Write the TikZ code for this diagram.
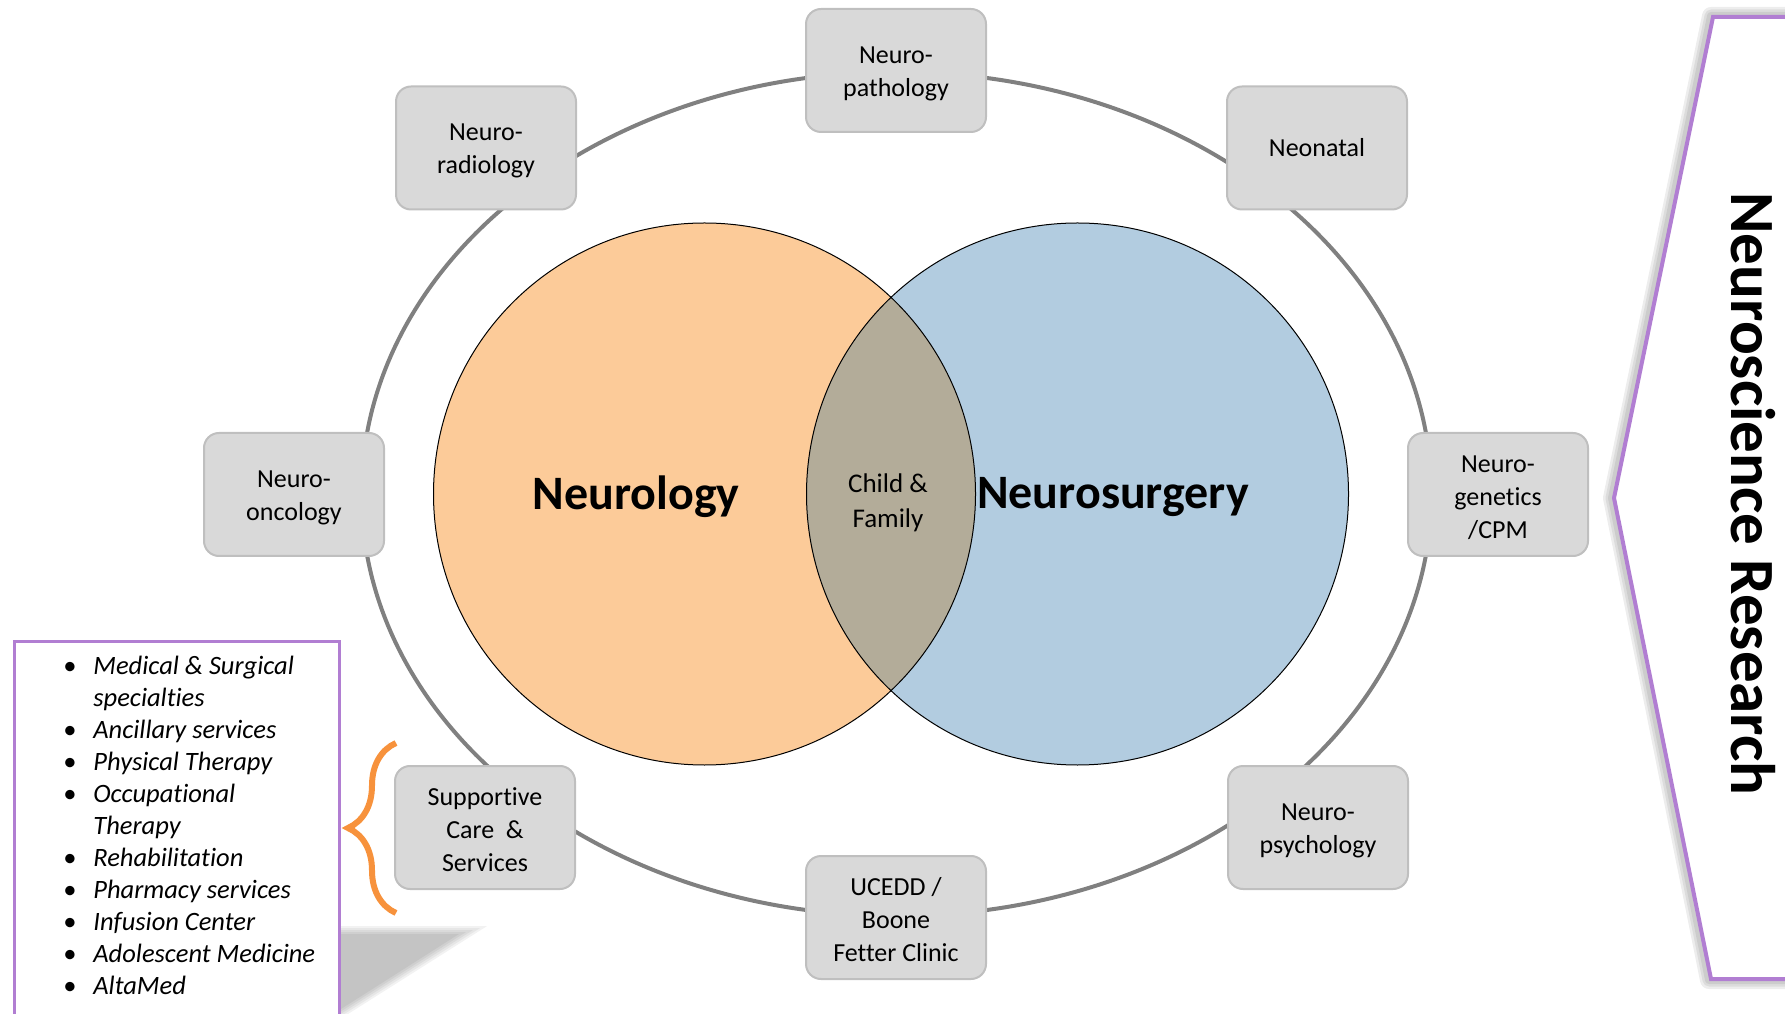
\documentclass[tikz,border=0pt]{standalone}
\usepackage{fontspec}
\setmainfont[Ligatures=NoCommon]{Carlito}
\usetikzlibrary{calc,positioning,decorations.pathreplacing,shapes}
\definecolor{boxfill}{RGB}{217,217,217}
\definecolor{boxline}{RGB}{191,191,191}
\definecolor{ringgray}{RGB}{128,128,128}
\definecolor{neurofill}{RGB}{252,203,153}
\definecolor{surgfill}{RGB}{178,204,224}
\definecolor{lensfill}{RGB}{179,172,153}
\definecolor{purpline}{RGB}{177,126,210}
\definecolor{braceorange}{RGB}{247,146,60}
\newcommand{\topstrut}{\rule{0pt}{23pt}}
\tikzset{
  specbox/.style={
    rectangle,
    rounded corners=15pt,
    fill=boxfill,
    draw=boxline, line width=2pt,
    minimum width=180pt,
    minimum height=123pt,
    align=center,
    font=\fontsize{26}{33}\selectfont},
  venn/.style={circle, minimum size=542pt, inner sep=0pt, outer sep=0pt},
  vennline/.style={draw=black, line width=1pt},
  ring/.style={draw=ringgray, line width=4pt},
  bigname/.style={font=\bfseries\fontsize{48}{56}\selectfont},
  midname/.style={align=center, font=\fontsize{27}{35}\selectfont},
  svcbrace/.style={decorate, decoration={brace, amplitude=48pt},
    draw=braceorange, line width=6pt},
  listframe/.style={draw=purpline, line width=3pt},
  svclist/.style={inner sep=0pt, font=\itshape\fontsize{26.5}{32}\selectfont},
  researchtxt/.style={font=\bfseries\fontsize{63}{76}\selectfont},
  softshade/.style={fill=black, opacity=.05},
}
\begin{document}
\begin{tikzpicture}[x=1pt,y=1pt]
    \useasboundingbox (0,0) rectangle (1785,1013);
    % outer ring
    \draw[ring] (896.5,519) ellipse [x radius=535pt, y radius=422pt];
    % the two circles and their overlap
    \node[venn, fill=neurofill] (nlg) at (704.5,519) {};
    \node[venn, fill=surgfill]  (nsg) at (1077.5,519) {};
    \begin{scope}
        \clip (nlg.center) circle [radius=271pt];
        \fill[lensfill] (nsg.center) circle [radius=271pt];
    \end{scope}
    \draw[vennline] (nlg.center) circle [radius=271pt];
    \draw[vennline] (nsg.center) circle [radius=271pt];
    \node[bigname] (nlgtxt) at (636,516)  {Neurology};
    \node[bigname] (nsgtxt) at (1113,516) {Neurosurgery};
    \node[midname] (child)  at (888,510)  {Child \&\\Family};
    % specialties on the ring
    \node[specbox] (npath) at (896,942.5) {\topstrut Neuro-\\pathology};
    \node[specbox] (nrad)  at (486,865)   {\topstrut Neuro-\\radiology};
    \node[specbox] (neo)   at (1317,865)  {Neonatal};
    \node[specbox] (nonc)  at (294,518.5) {\topstrut Neuro-\\oncology};
    \node[specbox] (ngen)  at (1498,518.5) {\topstrut Neuro-\\genetics\\/CPM};
    \node[specbox] (supp)  at (485,185.5) {\topstrut Supportive\\Care\ \ \&\\Services};
    \node[specbox] (npsy)  at (1318,185.5) {\topstrut Neuro-\\psychology};
    \node[specbox] (ucedd) at (896,95.5)  {\topstrut UCEDD /\\Boone\\Fetter Clinic};
    % services list, with its soft shadow
    \foreach \d in {-4,-2,...,4}
        \fill[softshade] (330,83-\d) -- ({339+(83-2.176*\d)/0.619},83-\d)
            -- (339,{1.176*\d-2}) -- (330,{1.176*\d-2}) -- cycle;
    \fill[white] (15,-6) rectangle (338,371);
    \draw[listframe] (14,-6) rectangle (339,372);
    \node[svclist, anchor=base west] (svc) at (63,339) {%
        \begin{tabular}[t]{@{}c@{\hspace{17pt}}l@{}}
        \textbullet & Medical \& Surgical\\
                    & specialties\\
        \textbullet & Ancillary services\\
        \textbullet & Physical Therapy\\
        \textbullet & Occupational\\
                    & Therapy\\
        \textbullet & Rehabilitation\\
        \textbullet & Pharmacy services\\
        \textbullet & Infusion Center\\
        \textbullet & Adolescent Medicine\\
        \textbullet & AltaMed
        \end{tabular}};
    \draw[svcbrace] ($(supp.south west)+(2,-23)$) -- ($(supp.north west)+(2,22)$);
    % research frame, with its soft shadow
    \foreach \w in {18,13,8}
        \draw[black, opacity=.07, line width=\w pt, line join=round]
            (1795,997) -- (1711,997) -- (1612,515) -- (1709,33) -- (1795,33);
    \draw[fill=white, draw=purpline, line width=4pt]
        (1795,996) -- (1713,996) -- (1614,515) -- (1711,34) -- (1795,34);
    \node[researchtxt, rotate=-90] (nres) at (1753,519) {Neuroscience Research};
\end{tikzpicture}
\end{document}
